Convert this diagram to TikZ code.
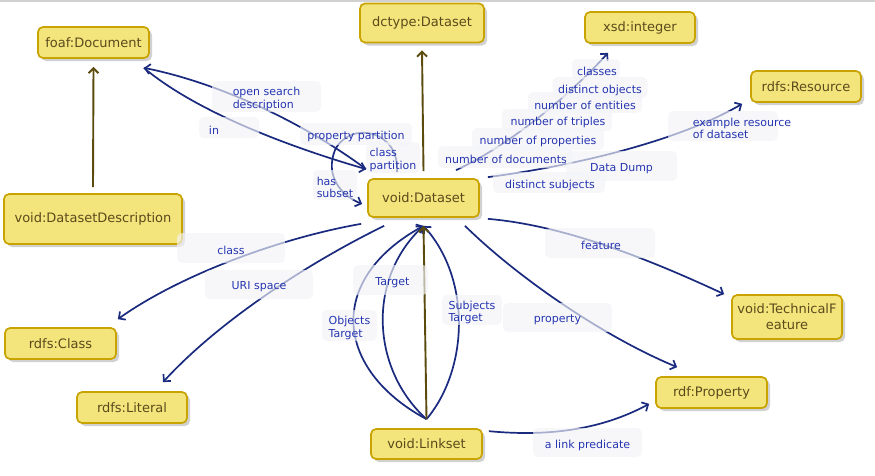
\documentclass[tikz,border=0pt]{standalone}
\usepackage{fontspec}
\setmainfont{DejaVu Sans}
\usetikzlibrary{arrows.meta,shadows}
\definecolor{nfill}{HTML}{F4E47C}
\definecolor{nborder}{HTML}{C9A300}
\definecolor{ntext}{HTML}{5A4B1C}
\definecolor{navy}{HTML}{1A2A7E}
\definecolor{subcol}{HTML}{5C4B0E}
\definecolor{lblbg}{HTML}{F3F4F8}
\definecolor{lbltext}{HTML}{2535B0}
\newcommand\edgelab[7]{%
  \node[lbl, minimum width=#4pt, minimum height=#5pt] (#1) at (#2,#3) {};
  \node[lbltxt] (#1t) at ([xshift=#6pt,yshift=-2.5pt]#1.center) {#7};}
\begin{document}
\begin{tikzpicture}[x=1pt,y=-1pt,
  ent/.style={draw=nborder, line width=1.7pt, fill=nfill, rounded corners=5pt, text=ntext,
    font=\fontsize{13}{16}\selectfont, inner sep=0pt, align=center,
    drop shadow={shadow xshift=3pt, shadow yshift=-3pt, opacity=0.18, fill=black}},
  rel/.style={draw=navy, line width=1.7pt, -{Straight Barb[length=5pt,width=10pt]}},
  sub/.style={draw=subcol, line width=1.9pt, -{Straight Barb[length=5pt,width=10pt]}},
  lbl/.style={fill=lblbg, fill opacity=0.65, rounded corners=5pt, inner sep=0pt},
  lbltxt/.style={text=lbltext, font=\fontsize{11}{12.5}\selectfont, inner sep=0pt, align=left}
]
\fill[white] (0,0) rectangle (875,475);
\useasboundingbox (0,0) rectangle (875,475);
\draw[black!18, line width=1.5pt] (0,0.75) -- (875,0.75);

% entities
\node[ent, minimum width=111pt, minimum height=31pt] (doc) at (93.5,42.5) {foaf:Document};
\node[ent, minimum width=124pt, minimum height=39pt] (dct) at (422,23) {dctype:Dataset};
\node[ent, minimum width=110pt, minimum height=31pt] (int) at (640,27.5) {xsd:integer};
\node[ent, minimum width=110pt, minimum height=31pt] (res) at (806,86.5) {rdfs:Resource};
\node[ent, minimum width=178pt, minimum height=50pt] (desc) at (93,219) {void:DatasetDescription};
\node[ent, minimum width=111pt, minimum height=38pt] (ds) at (423.5,198) {void:Dataset};
\node[ent, minimum width=111pt, minimum height=31pt] (cls) at (60.5,343.5) {rdfs:Class};
\node[ent, minimum width=110pt, minimum height=31pt] (lit) at (132,407.5) {rdfs:Literal};
\node[ent, minimum width=111pt, minimum height=30pt] (ls) at (426.5,444) {void:Linkset};
\node[ent, minimum width=110pt, minimum height=44pt] (tf) at (787,317) {void:TechnicalF\\eature};
\node[ent, minimum width=111pt, minimum height=31pt] (prop) at (711.5,392.5) {rdf:Property};

% subclass connectors
\draw[sub] ([yshift=6pt]desc.north) -- ([yshift=-8pt]doc.south);
\draw[sub] ([yshift=7pt]ds.north) -- ([yshift=-7pt]dct.south);

% dataset <-> document
\draw[rel] ([xshift=-1pt,yshift=9pt]ds.north west) .. controls (300,120) and (215,82) .. ([xshift=-6pt,yshift=-9pt]doc.south east);
\draw[rel] ([xshift=-6pt,yshift=-9pt]doc.south east) .. controls (200,115) and (300,150) .. ([xshift=-1pt,yshift=9pt]ds.north west);

% self loop
\draw[rel] ([xshift=-26.5pt,yshift=6pt]ds.north) .. controls (400,130) and (350,120) .. (335,150)
  .. controls (325,175) and (340,195) .. ([xshift=-5pt,yshift=-6pt]ds.west);

% to xsd:integer
\draw[rel] ([xshift=32.5pt,yshift=8pt]ds.north) .. controls (510,145) and (570,95) .. ([xshift=-32pt,yshift=-9pt]int.south);
% to rdfs:Resource
\draw[rel] ([xshift=8pt,yshift=1pt]ds.north east) .. controls (580,165) and (680,140) .. ([xshift=-8pt,yshift=-1pt]res.south west);
% feature
\draw[rel] ([xshift=8pt,yshift=-1pt]ds.south east) .. controls (560,225) and (640,255) .. ([xshift=-7pt]tf.north west);
% property
\draw[rel] ([xshift=41.5pt,yshift=-8pt]ds.south) .. controls (515,275) and (600,335) .. ([xshift=22pt,yshift=9pt]prop.north west);
% class
\draw[rel] ([xshift=-6pt,yshift=-6pt]ds.south west) .. controls (280,238) and (180,275) .. ([xshift=1pt,yshift=8pt]cls.north east);
% URI space
\draw[rel] ([xshift=17pt,yshift=-8pt]ds.south west) .. controls (310,262) and (220,320) .. ([xshift=31pt,yshift=9pt]lit.north);
% linkset edges
\draw[rel] ([yshift=9pt]ls.north) .. controls (335,370) and (325,280) .. ([yshift=-8pt]ds.south);
\draw[rel] ([yshift=9pt]ls.north) .. controls (372,370) and (366,280) .. ([yshift=-8pt]ds.south);
\draw[rel] ([yshift=9pt]ls.north) .. controls (468,370) and (472,280) .. ([yshift=-8pt]ds.south);
\draw[sub] ([yshift=9pt]ls.north) -- ([yshift=-8pt]ds.south);
% link predicate
\draw[rel] ([xshift=6pt,yshift=-3pt]ls.north east) .. controls (560,438) and (610,425) .. ([xshift=-6pt,yshift=5pt]prop.south west);

% labels: name, cx, cy, width, height, text x-offset, text
\edgelab{l1}{266.5}{96.5}{109}{31}{0}{open search\\description}
\edgelab{l2}{229}{127.5}{60}{21}{-15}{in}
\edgelab{l3}{356}{134}{112}{22}{0}{property partition}
\edgelab{l4}{393}{157.5}{54}{31}{0}{class\\partition}
\edgelab{l5}{335}{185}{44}{30}{0}{has\\subset}
\edgelab{l11}{505}{157}{134}{22}{1}{number of documents}
\edgelab{l10}{538}{139}{132}{22}{0}{number of properties}
\edgelab{l9}{557}{120}{110}{22}{1}{number of triples}
\edgelab{l8}{585}{102.5}{114}{21}{0}{number of entities}
\edgelab{l7}{600}{87.5}{95}{21}{0}{distinct objects}
\edgelab{l6}{596}{69}{48}{20}{1}{classes}
\edgelab{l13}{621.5}{166}{111}{30}{0}{Data Dump}
\edgelab{l12}{549}{182.5}{112}{21}{1}{distinct subjects}
\edgelab{l14}{723}{126}{110}{30}{19}{example resource\\of dataset}
\edgelab{l15}{231}{248}{108}{30}{0}{class}
\edgelab{l16}{259}{284.5}{108}{29}{0}{URI space}
\edgelab{l17}{390.5}{280}{75}{30}{2}{Target}
\edgelab{l18}{349.5}{325.5}{55}{31}{0}{Objects\\Target}
\edgelab{l19}{472}{310}{60}{30}{0}{Subjects\\Target}
\edgelab{l20}{600}{243}{110}{30}{1}{feature}
\edgelab{l21}{557.5}{317.5}{109}{29}{0}{property}
\edgelab{l22}{587.5}{442.5}{109}{29}{0}{a link predicate}
\end{tikzpicture}
\end{document}
